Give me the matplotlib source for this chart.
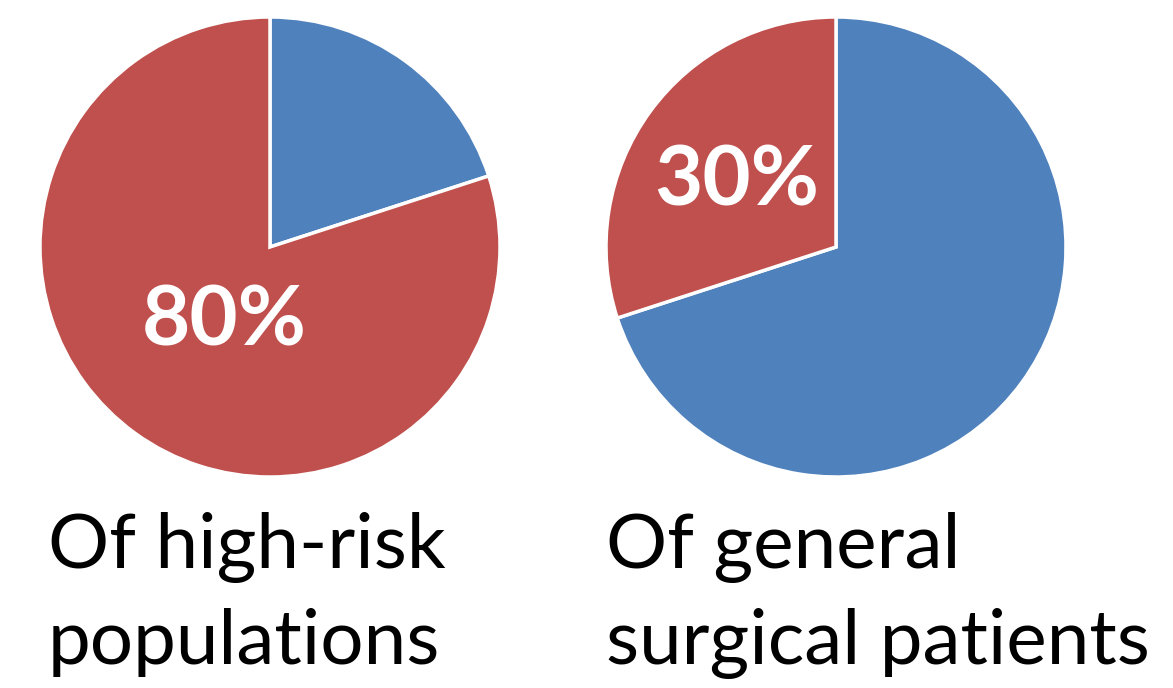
import matplotlib
matplotlib.use("Agg")
import matplotlib.pyplot as plt

# Data
left_labels = ["Other", "High-risk"]
left_values = [20, 80]
right_labels = ["Other", "General surgical"]
right_values = [70, 30]
colors = ["#4F81BD", "#C0504D"]
left_pct = "80%"
right_pct = "30%"
left_caption = ["Of high-risk", "populations"]
right_caption = ["Of general", "surgical patients"]

W, H = 1173, 688
fig = plt.figure(figsize=(W / 100, H / 100), dpi=100)
fig.patch.set_facecolor("white")
FONT = "Lato"

def add_pie(cx, cy, r, values):
    ax = fig.add_axes([(cx - r) / W, 1 - (cy + r) / H, 2 * r / W, 2 * r / H])
    ax.pie(values, colors=colors, startangle=90, counterclock=False,
           wedgeprops=dict(edgecolor="white", linewidth=2.5))
    ax.set_xlim(-1, 1)
    ax.set_ylim(-1, 1)
    ax.set_aspect("equal")
    ax.axis("off")
    return ax

ax1 = add_pie(270, 247, 230, left_values)
ax2 = add_pie(836, 247, 230, right_values)

fig.text(224 / W, 1 - 345 / H, left_pct, color="white", fontsize=60,
         fontweight="bold", family=FONT, ha="center", va="baseline")
fig.text(737 / W, 1 - 205 / H, right_pct, color="white", fontsize=60,
         fontweight="bold", family=FONT, ha="center", va="baseline")

for x0, lines in ((48, left_caption), (606, right_caption)):
    for yb, line in zip((568, 664), lines):
        fig.text(x0 / W, 1 - yb / H, line, color="black", fontsize=55,
                 family=FONT, ha="left", va="baseline")

fig.savefig("out.png", dpi=100, facecolor="white")
